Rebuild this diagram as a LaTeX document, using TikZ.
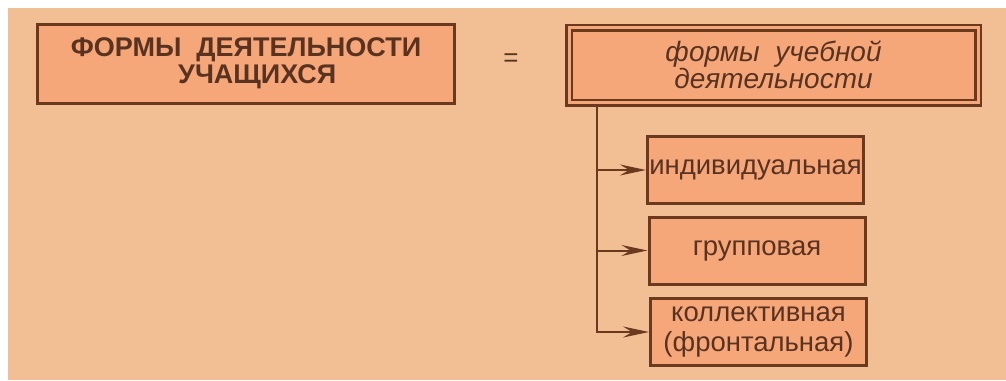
\documentclass[tikz,border=0pt]{standalone}
\usepackage{fontspec}
\setmainfont{Liberation Sans}
\usetikzlibrary{arrows.meta,positioning}

\definecolor{pagebg}{HTML}{F2BF95}
\definecolor{boxfill}{HTML}{F5A77A}
\definecolor{boxline}{HTML}{6B3A1E}
\definecolor{boxtext}{HTML}{5A3320}

\tikzset{
	formbox/.style={draw=boxline, fill=boxfill, line width=3pt, text=boxtext,
		align=center, inner sep=0pt},
	kindbox/.style={formbox, minimum width=216pt, minimum height=67pt,
		font=\fontsize{27.5}{30}\selectfont},
	feed/.style={draw=boxline, line width=2pt, -{Stealth[length=26pt,width=11pt,inset=9pt]}}
}

\begin{document}
\begin{tikzpicture}[x=1pt,y=-1pt]
	% fond
	\useasboundingbox (0,0) rectangle (1006,380);
	\fill[white] (0,0) rectangle (1006,380);
	\fill[pagebg] (8,8) rectangle (1006,380);

	% les deux blocs du haut
	\node[formbox, minimum width=417pt, minimum height=79pt,
		font=\fontsize{27}{27}\bfseries\selectfont] (eleves) at (246,63.5)
		{ФОРМЫ\ \ ДЕЯТЕЛЬНОСТИ\\\ \ \ УЧАЩИХСЯ};
	\node[text=boxtext, font=\fontsize{26}{26}\selectfont] (egal) at (511,60) {=};
	\node[formbox, line width=2.5pt, double=boxfill, double distance=3pt,
		minimum width=409pt, minimum height=75pt,
		font=\fontsize{28}{27}\itshape\selectfont] (etude) at (773.5,65)
		{формы\ \ учебной\\деятельности};

	% les trois formes
	\node[kindbox] (indiv) at (755.5,170) {индивидуальная};
	\node[kindbox] (groupe) at (757,250.5) {групповая};
	\node[kindbox] (collect) at (758.5,332) {коллективная\\(фронтальная)};

	% fleches
	\coordinate (tronc) at (597,104);
	\draw[feed] (tronc) |- (indiv.west);
	\draw[feed] (tronc) |- (groupe.west);
	\draw[feed] (tronc) |- (collect.west);
\end{tikzpicture}
\end{document}
